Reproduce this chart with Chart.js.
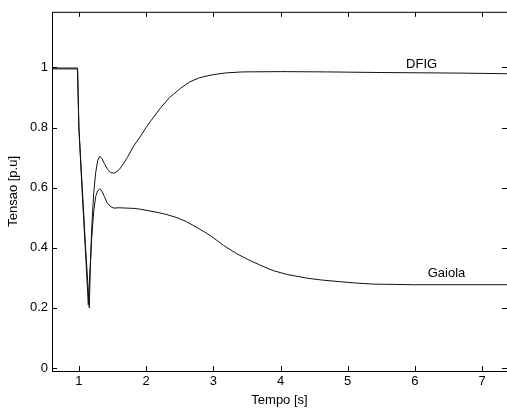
<!DOCTYPE html>
<html>
<head>
<meta charset="utf-8">
<script src="https://cdn.jsdelivr.net/npm/chart.js@4/dist/chart.umd.min.js"></script>
<style>
  body { margin: 0; background: #fff; }
  canvas { display: block; }
</style>
</head>
<body>
<canvas id="tensao" width="507" height="410"></canvas>
<script>
// values (time in s, voltage in p.u.)
const dfigT = [0.6, 0.98, 1.0, 1.05, 1.1, 1.155, 1.17, 1.19, 1.22, 1.25, 1.28, 1.31, 1.34, 1.38, 1.43, 1.47, 1.51, 1.55, 1.6, 1.65, 1.72, 1.82, 1.92, 2.0, 2.07, 2.21, 2.35, 2.51, 2.65, 2.8, 3.0, 3.2, 3.44, 4.0, 4.7, 5.5, 6.7, 7.37];
const dfigV = [0.998, 0.998, 0.8, 0.6, 0.4, 0.2, 0.33, 0.46, 0.58, 0.65, 0.69, 0.704, 0.698, 0.68, 0.66, 0.651, 0.648, 0.651, 0.66, 0.675, 0.7, 0.74, 0.772, 0.8, 0.822, 0.864, 0.9, 0.93, 0.952, 0.966, 0.976, 0.982, 0.985, 0.986, 0.985, 0.983, 0.981, 0.979];

const gaiolaT = [0.6, 0.98, 1.0, 1.05, 1.1, 1.14, 1.16, 1.19, 1.22, 1.25, 1.28, 1.31, 1.34, 1.38, 1.42, 1.47, 1.52, 1.6, 1.82, 1.92, 2.16, 2.3, 2.46, 2.6, 2.76, 2.96, 3.15, 3.35, 3.55, 3.7, 3.89, 4.1, 4.39, 4.6, 4.89, 5.1, 5.39, 5.7, 5.98, 7.37];
const gaiolaV = [0.995, 0.995, 0.8, 0.58, 0.38, 0.21, 0.3, 0.43, 0.52, 0.57, 0.59, 0.595, 0.59, 0.57, 0.55, 0.537, 0.532, 0.533, 0.531, 0.528, 0.518, 0.511, 0.5, 0.487, 0.467, 0.44, 0.408, 0.38, 0.357, 0.342, 0.324, 0.311, 0.299, 0.293, 0.287, 0.283, 0.279, 0.278, 0.277, 0.277];

const xTicks = [1, 2, 3, 4, 5, 6, 7];
const yTicks = [0, 0.2, 0.4, 0.6, 0.8, 1];

const curveNames = ['DFIG', 'Gaiola'];
const nameX = [6.1, 6.47];
const nameY = [1.011, 0.313];

const FONT = '"Liberation Sans", Arial, Helvetica, sans-serif';
const FSIZE = 13;

const toPoints = (t, v) => t.map((x, i) => ({x: x, y: v[i]}));

// MATLAB-style frame with inward ticks, plus the curve names
const framePlugin = {
  id: 'frame',
  afterDatasetsDraw(chart) {
    const ctx = chart.ctx;
    const xs = chart.scales.x, ys = chart.scales.y;
    ctx.save();
    ctx.font = FSIZE + 'px ' + FONT;
    ctx.fillStyle = '#000';
    ctx.textAlign = 'center';
    ctx.textBaseline = 'middle';
    curveNames.forEach((n, i) => {
      ctx.fillText(n, xs.getPixelForValue(nameX[i]), ys.getPixelForValue(nameY[i]));
    });
    ctx.restore();
  },
  afterDraw(chart) {
    const ctx = chart.ctx;
    const a = chart.chartArea;
    const xs = chart.scales.x, ys = chart.scales.y;
    const len = 5;
    ctx.save();
    ctx.strokeStyle = '#000';
    ctx.lineWidth = 1;
    ctx.strokeRect(a.left + 0.5, a.top + 0.5, a.right - a.left, a.bottom - a.top);
    ctx.beginPath();
    xTicks.forEach(v => {
      const px = Math.round(xs.getPixelForValue(v)) + 0.5;
      ctx.moveTo(px, a.bottom); ctx.lineTo(px, a.bottom - len);
      ctx.moveTo(px, a.top); ctx.lineTo(px, a.top + len);
    });
    yTicks.forEach(v => {
      const py = Math.round(ys.getPixelForValue(v)) + 0.5;
      ctx.moveTo(a.left, py); ctx.lineTo(a.left + len, py);
      ctx.moveTo(a.right, py); ctx.lineTo(a.right - len, py);
    });
    ctx.stroke();
    ctx.restore();
  }
};

new Chart(document.getElementById('tensao'), {
  type: 'line',
  data: {
    datasets: [
      {label: 'DFIG', data: toPoints(dfigT, dfigV), borderColor: '#111', borderWidth: 1, pointRadius: 0, tension: 0},
      {label: 'Gaiola', data: toPoints(gaiolaT, gaiolaV), borderColor: '#111', borderWidth: 1, pointRadius: 0, tension: 0}
    ]
  },
  options: {
    responsive: false,
    animation: false,
    devicePixelRatio: 1,
    layout: {padding: {top: 10, right: 0, left: 0, bottom: 0}},
    plugins: {legend: {display: false}, tooltip: {enabled: false}},
    scales: {
      x: {
        type: 'linear',
        min: 0.6,
        max: 7.37,
        grid: {display: false, drawTicks: false},
        border: {display: false},
        afterBuildTicks: s => { s.ticks = xTicks.map(v => ({value: v})); },
        afterFit: s => { s.height = 39; },
        ticks: {padding: 3, color: '#000', font: {family: FONT, size: FSIZE}, maxRotation: 0},
        title: {display: true, text: 'Tempo [s]', color: '#000', font: {family: FONT, size: FSIZE}, padding: {top: 0, bottom: 2}}
      },
      y: {
        min: -0.01,
        max: 1.185,
        grid: {display: false, drawTicks: false},
        border: {display: false},
        afterBuildTicks: s => { s.ticks = yTicks.map(v => ({value: v})); },
        afterFit: s => { s.width = 52; },
        ticks: {padding: 4, color: '#000', font: {family: FONT, size: FSIZE}, callback: v => String(+v.toFixed(1))},
        title: {display: true, text: 'Tensao [p.u]', color: '#000', font: {family: FONT, size: FSIZE}, padding: {top: 6, bottom: 0}}
      }
    }
  },
  plugins: [framePlugin]
});
</script>
</body>
</html>
